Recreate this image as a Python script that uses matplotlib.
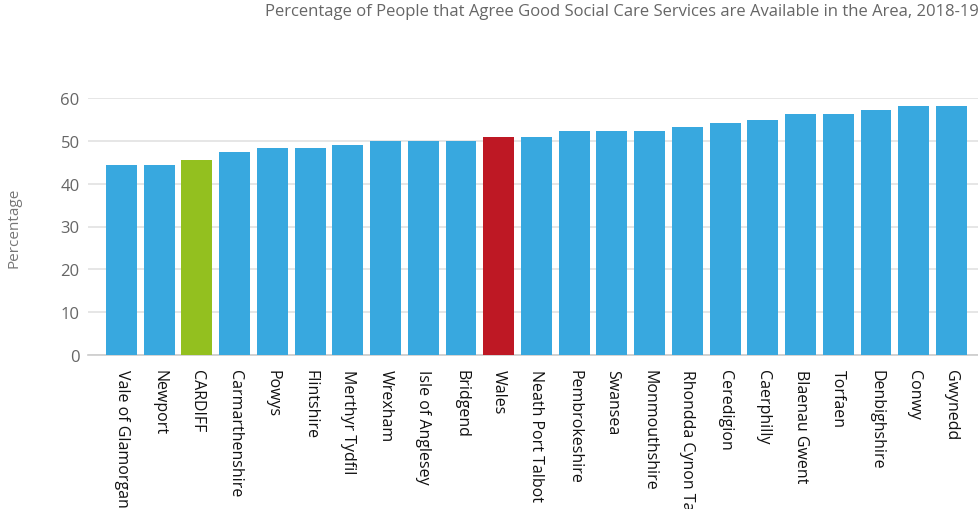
import matplotlib
matplotlib.use("Agg")
import matplotlib.pyplot as plt
from matplotlib import font_manager

categories = ["Vale of Glamorgan", "Newport", "CARDIFF", "Carmarthenshire", "Powys",
              "Flintshire", "Merthyr Tydfil", "Wrexham", "Isle of Anglesey", "Bridgend",
              "Wales", "Neath Port Talbot", "Pembrokeshire", "Swansea", "Monmouthshire",
              "Rhondda Cynon Taf", "Ceredigion", "Caerphilly", "Blaenau Gwent", "Torfaen",
              "Denbighshire", "Conwy", "Gwynedd"]
values = [44.4, 44.4, 45.5, 47.4, 48.3, 48.3, 49.0, 50.0, 50.0, 50.0,
          50.9, 50.9, 52.3, 52.3, 52.3, 53.2, 54.2, 54.9, 56.3, 56.3,
          57.2, 58.1, 58.1]
yticks = [0, 10, 20, 30, 40, 50, 60]

BLUE = "#38A8DF"
GREEN = "#93C01F"
RED = "#BE1824"
colors = [GREEN if c == "CARDIFF" else RED if c == "Wales" else BLUE for c in categories]

names = {f.name for f in font_manager.fontManager.ttflist}
narrow = "Liberation Sans Narrow" in names
FAM = ['Liberation Sans Narrow', 'Open Sans', 'DejaVu Sans'] if narrow else ['Open Sans', 'DejaVu Sans']
plt.rcParams['font.family'] = FAM

W, H = 979, 510
fig = plt.figure(figsize=(W / 100, H / 100), dpi=100)
left_px, right_px, top_px, bottom_px = 88, 979, 99, 356
ax = fig.add_axes([left_px / W, 1 - bottom_px / H, (right_px - left_px) / W, (bottom_px - top_px) / H])

x = list(range(len(categories)))
ax.bar(x, values, width=0.82, color=colors, zorder=3)
ax.set_xlim(-0.888, 22.73)
ax.set_ylim(0, 60)
ax.set_yticks(yticks)
ax.set_yticklabels([str(t) for t in yticks], fontsize=13 if narrow else 12, color="#666666")
ax.set_xticks(x)
ax.set_xticklabels(categories, rotation=270, fontsize=14 if narrow else 11.5,
                   color="#111111", va="top", ha="center")
ax.tick_params(axis='x', length=0, pad=10)
ax.tick_params(axis='y', length=0, pad=6)
ax.grid(axis='y', color="#e2e2e2", linewidth=1.2, zorder=0)
for s in ["top", "right", "left"]:
    ax.spines[s].set_visible(False)
ax.spines["bottom"].set_color("#cccccc")
ax.spines["bottom"].set_linewidth(1.2)
ax.set_ylabel("Percentage", fontsize=12.5 if narrow else 11, color="#777777", labelpad=28)

fig.text(265 / W, 1 - 12 / H,
         "Percentage of People that Agree Good Social Care Services are Available in the Area, 2018-19",
         fontsize=15 if narrow else 12, color="#666666", ha="left", va="center")

fig.savefig("out.png", dpi=100)
